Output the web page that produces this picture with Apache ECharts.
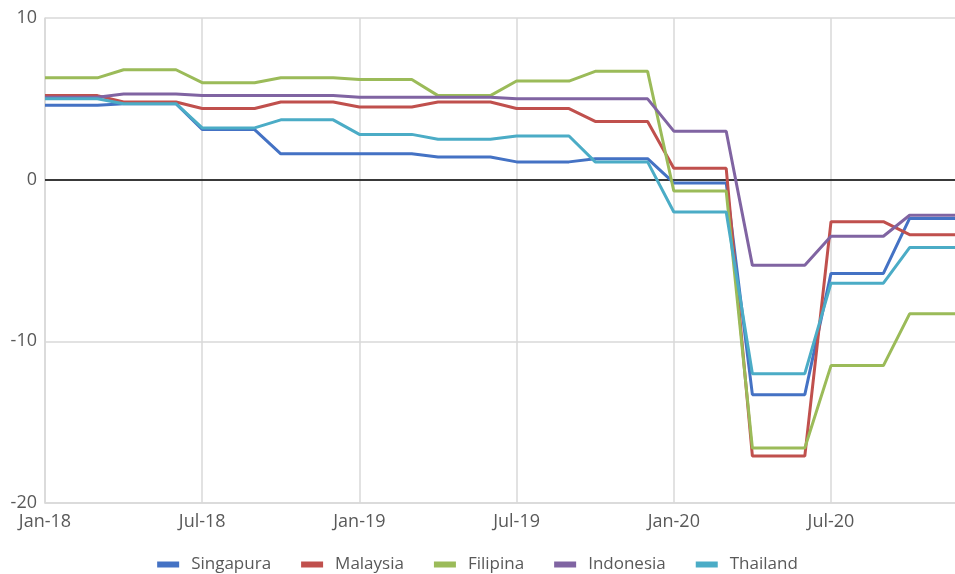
<!DOCTYPE html>
<html>
<head>
<meta charset="utf-8">
<script src="https://cdn.jsdelivr.net/npm/echarts@6/dist/echarts.min.js"></script>
<style>html,body{margin:0;padding:0;background:#fff}#c{width:955px;height:574px}</style>
</head>
<body>
<div id="c"></div>
<script>
var categories = ['Jan-18','Feb-18','Mar-18','Apr-18','May-18','Jun-18','Jul-18','Aug-18','Sep-18','Oct-18','Nov-18','Dec-18',
  'Jan-19','Feb-19','Mar-19','Apr-19','May-19','Jun-19','Jul-19','Aug-19','Sep-19','Oct-19','Nov-19','Dec-19',
  'Jan-20','Feb-20','Mar-20','Apr-20','May-20','Jun-20','Jul-20','Aug-20','Sep-20','Oct-20','Nov-20','Dec-20'];
var singapura = [4.6,4.6,4.6, 4.7,4.7,4.7, 3.1,3.1,3.1, 1.6,1.6,1.6, 1.6,1.6,1.6, 1.4,1.4,1.4, 1.1,1.1,1.1, 1.3,1.3,1.3, -0.2,-0.2,-0.2, -13.3,-13.3,-13.3, -5.8,-5.8,-5.8, -2.4,-2.4,-2.4];
var malaysia  = [5.2,5.2,5.2, 4.8,4.8,4.8, 4.4,4.4,4.4, 4.8,4.8,4.8, 4.5,4.5,4.5, 4.8,4.8,4.8, 4.4,4.4,4.4, 3.6,3.6,3.6, 0.7,0.7,0.7, -17.1,-17.1,-17.1, -2.6,-2.6,-2.6, -3.4,-3.4,-3.4];
var filipina  = [6.3,6.3,6.3, 6.8,6.8,6.8, 6.0,6.0,6.0, 6.3,6.3,6.3, 6.2,6.2,6.2, 5.2,5.2,5.2, 6.1,6.1,6.1, 6.7,6.7,6.7, -0.7,-0.7,-0.7, -16.6,-16.6,-16.6, -11.5,-11.5,-11.5, -8.3,-8.3,-8.3];
var indonesia = [5.1,5.1,5.1, 5.3,5.3,5.3, 5.2,5.2,5.2, 5.2,5.2,5.2, 5.1,5.1,5.1, 5.1,5.1,5.1, 5.0,5.0,5.0, 5.0,5.0,5.0, 3.0,3.0,3.0, -5.3,-5.3,-5.3, -3.5,-3.5,-3.5, -2.2,-2.2,-2.2];
var thailand  = [5.0,5.0,5.0, 4.7,4.7,4.7, 3.2,3.2,3.2, 3.7,3.7,3.7, 2.8,2.8,2.8, 2.5,2.5,2.5, 2.7,2.7,2.7, 1.1,1.1,1.1, -2.0,-2.0,-2.0, -12.0,-12.0,-12.0, -6.4,-6.4,-6.4, -4.2,-4.2,-4.2];
var seriesNames = ['Singapura','Malaysia','Filipina','Indonesia','Thailand'];
var seriesData = [singapura, malaysia, filipina, indonesia, thailand];
var colors = ['#4472C4','#C0504D','#9BBB59','#8064A2','#4BACC6'];

var font = "'Segoe UI','Open Sans','Noto Sans',sans-serif";
var chart = echarts.init(document.getElementById('c'));
var series = seriesNames.map(function (n, i) {
  var s = {
    name: n, type: 'line', data: seriesData[i], showSymbol: false, symbol: 'none',
    lineStyle: { width: 3, color: colors[i] }, itemStyle: { color: colors[i] },
    emphasis: { disabled: true }, z: 3 + i
  };
  if (i === 0) {
    s.markLine = {
      silent: true, symbol: 'none', label: { show: false },
      lineStyle: { color: '#000', width: 1.5, type: 'solid' },
      data: [{ yAxis: 0 }], z: 2
    };
  }
  return s;
});
chart.setOption({
  animation: false,
  color: colors,
  grid: { left: 45, right: -7, top: 18, bottom: 71, containLabel: false, outerBoundsMode: 'none' },
  legend: {
    top: 551, left: 'center', icon: 'rect', itemWidth: 22, itemHeight: 6, itemGap: 30,
    textStyle: { fontFamily: font, fontSize: 17, color: '#595959', padding: [0, 0, 0, 7] },
    data: seriesNames
  },
  xAxis: {
    type: 'category', data: categories, boundaryGap: false,
    axisLine: { onZero: false, lineStyle: { color: '#d9d9d9', width: 1.5 } },
    axisTick: { show: false },
    axisLabel: { interval: 5, color: '#595959', fontFamily: font, fontSize: 18, margin: 10 },
    splitLine: { show: true, interval: 5, lineStyle: { color: '#d9d9d9', width: 1.5 } }
  },
  yAxis: {
    type: 'value', min: -20, max: 10, interval: 10,
    axisLine: { show: true, lineStyle: { color: '#d9d9d9', width: 1.5 } },
    axisTick: { show: false },
    axisLabel: { color: '#595959', fontFamily: font, fontSize: 18, margin: 8 },
    splitLine: { show: true, lineStyle: { color: '#d9d9d9', width: 1.5 } }
  },
  series: series
});
</script>
</body>
</html>
